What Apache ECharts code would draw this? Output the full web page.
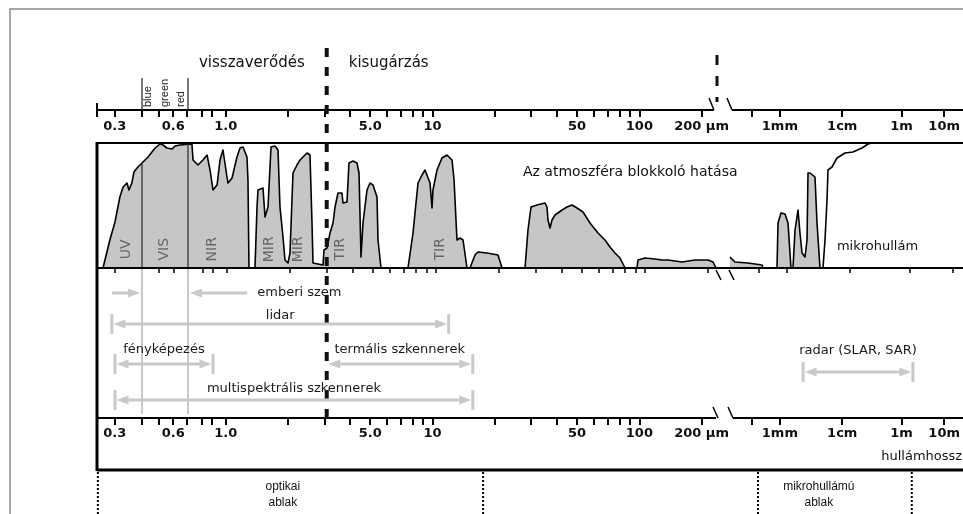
<!DOCTYPE html>
<html><head><meta charset="utf-8">
<script src="https://cdn.jsdelivr.net/npm/echarts@6/dist/echarts.min.js"></script>
<style>html,body{margin:0;padding:0;background:#fff}#c{width:963px;height:514px}</style>
</head><body><div id="c"></div>
<script>
// ================= DATA (wavelength in µm, transmission in %) =================
const opticalWavelength = [0.264,0.284,0.300,0.316,0.327,0.341,0.348,0.359,0.367,0.383,0.400,0.433,0.475,0.506,0.525,0.551,0.586,0.607,0.641,0.725,0.732,0.765,0.800,0.839,0.869,0.900,0.928,0.949,0.970,1.000,1.011,1.057,1.116,1.154,1.193,1.246,1.260,1.274,1.361,1.392,1.407,1.487,1.520,1.571,1.624,1.697,1.754,1.793,1.853,1.894,1.958,2.002,2.069,2.162,2.235,2.414,2.495,2.551,2.579,2.880,2.911,3.010,3.111,3.216,3.287,3.397,3.549,3.589,3.751,3.834,4.008,4.188,4.282,4.377,4.474,4.676,4.833,4.995,5.220,5.278,5.456,7.345,7.762,8.202,8.571,8.860,9.056,9.361,9.570,9.674,10.11,10.68,11.29,11.93,12.20,12.60,13.03,13.47,14.07,14.54,15.37,15.89,17.54,19.80,20.70,26.66,27.55,28.48,30.42,33.22,33.97,34.35,35.12,35.89,37.10,40.09,42.36,44.75,47.28,50.50,54.56,59.58,64.35,68.00,71.87,75.94,80.24,91.56,92.57,100,111.6,120.6,128.8,150.3,173.5,200.2,211.5,218.7];
const opticalTransmission = [0,22.4,36.8,56.8,64.8,68,62.4,68,76.8,80.8,84,88.8,96,99.2,98.4,96,95.2,97.6,98.4,99.2,86.4,82.4,86.4,90.4,78.4,62.4,66.4,86.4,94.4,72.8,68,72,88.8,96,96.8,88.8,70.4,0,0,48.8,62.4,64,40.8,48.8,96.8,97.6,94.4,48.8,24.8,6.4,4,12,76,82.4,86.4,92,90.4,36,4,2.4,14.4,16,28,36,48.8,60,60,52,52.8,84,85.6,84,76,8.8,36,62.4,68,66.4,56.8,22.4,0,0,28,68,74.4,78.4,80,68,48,62.4,78.4,88,90.4,86.4,70.4,22.4,24,22.4,0,0,10.4,12.8,12,10.4,0,0,30.4,48.8,50.4,52,48.8,38.4,32,38.4,42.4,46.4,48.8,50.4,48,44.8,36,28,22.4,16.8,12,8,0,0,6.4,8,7.2,6.4,6.4,4.8,6.4,6.4,4.8,0];
const microWavelength = [250,282,387,545,558,784,804,864,953,1037,1157,1245,1340,1441,1495,1608,1730,1931,2078,2154,2318,2783,2994,3340,3727];
const microTransmission = [8.8,4.8,4,2.4,0,0,36,44,43.2,36,0,0,30.4,40.8,46.4,28,12,8.8,22.4,76,76,72.8,36,0,0];
const radioWavelength = [3727,4010,4314,4476,5179,6220,8329,12589,25119,39811,54117];
const radioTransmission = [0,22.4,54.4,78.4,80.8,88,92,92.8,96,99.2,100];

const tickWavelength = [0.3,0.4,0.5,0.6,0.7,0.8,0.9,1,2,3,4,5,6,7,8,9,10,20,30,40,50,60,70,80,90,100,200,500,1000,1e4,1e6,1e7];
const labelWavelength = [0.3,0.6,1,5,10,50,100,200,1000,1e4,1e6,1e7];
const labelText = ['0.3','0.6','1.0','5.0','10','50','100','200 µm','1mm','1cm','1m','10m'];

const bandNames = ['UV','VIS','NIR','MIR','MIR','TIR','TIR'];
const bandAt = [0.337,0.531,0.889,1.59,2.19,3.47,10.45];
const colourNames = ['blue','green','red'];
const colourAt = [0.43,0.54,0.65];
const visibleLimits = [0.4,0.7];
const regimeDivide = 3;             // µm: visszaverődés | kisugárzás
const breakFrom = 218.7, breakTo = 250;

const sensorNames = ['lidar','fényképezés','termális szkennerek','multispektrális szkennerek','radar (SLAR, SAR)'];
const sensorFrom = [0.29,0.3,3,0.3,1800];
const sensorTo = [11.5,0.9,15,15,1.17e6];
const eyeFrom = [0.29,1.25];
const eyeTo = [0.4,0.7];
const windowTitle = ['optikai','mikrohullámú'];
const windowFrom = [0.25,494];
const windowTo = [16.8,1.1e6];
const windowLabelAt = [1.85,3200];

// ================= AXIS SCALE (broken, non-uniform wavelength axis) =================
const scaleKnotsUm  = [0.3,0.4,0.5,0.6,0.7,0.8,0.9,1,100,218.7,250,1000,1e4,1e6,1e7,1e8];
const scaleKnotsPos = [115,142,159,174,188,203,213,227,645,716,730,787,850,910,953,996];
const knotLog = scaleKnotsUm.map(Math.log10);
function pos(um){
  const l = Math.log10(um);
  let i = 0;
  if (l >= knotLog[knotLog.length-1]) i = knotLog.length-2;
  else if (l > knotLog[0]) { while (l > knotLog[i+1]) i++; }
  const t = (l - knotLog[i])/(knotLog[i+1]-knotLog[i]);
  return scaleKnotsPos[i] + t*(scaleKnotsPos[i+1]-scaleKnotsPos[i]);
}
const AX_MIN = 97, AX_MAX = 963;

// ================= LAYOUT =================
const ROW = {regime:63, dashTop:48, dashBottom:428, colourTop:78, colourBase:107, topAxis:110,
  panelTop:143, panelBottom:268, arrowsTop:269, arrowsBottom:414, bottomAxis:418, footer:470,
  windowTop:472, win1:487, win2:503, page:514, eye:293, blockText:172, microText:247, waveText:457};
const sensorRow = [324,364,364,400,372];
const sensorLabelRow = [316,350,350,389,351];
const GRAY = '#c9c9c9';
const FONT = 'DejaVu Sans';

const tickU = tickWavelength.map(pos);
const labelU = labelWavelength.map(pos);
function fmt(v){ const i = labelU.findIndex(x => Math.abs(x - v) < 1e-6); return i < 0 ? '' : labelText[i]; }

function transAt(um){
  const u = pos(um), xs = opticalWavelength.map(pos);
  for (let i = 0; i < xs.length-1; i++) if (u >= xs[i] && u <= xs[i+1]) {
    const t = (u - xs[i])/(xs[i+1]-xs[i]); return opticalTransmission[i] + t*(opticalTransmission[i+1]-opticalTransmission[i]);
  }
  return 0;
}

// ================= DECORATION BUILDERS =================
const decoO = [], decoP = [];
const line = (arr,u1,y1,u2,y2,stroke,w,dash)=>arr.push({t:'l',u1,y1,u2,y2,stroke,w,dash});
const poly = (arr,pts,fill)=>arr.push({t:'p',pts,fill});
const text = (arr,u,y,s,o)=>arr.push(Object.assign({t:'t',u,y,s},o||{}));

const bL = pos(breakFrom), bR = pos(breakTo);
// axis lines with breaks
line(decoO,AX_MIN,ROW.topAxis,bL-2,ROW.topAxis,'#000',2);
line(decoO,bR+2,ROW.topAxis,AX_MAX,ROW.topAxis,'#000',2);
line(decoO,bL-7,ROW.topAxis-12,bL-2,ROW.topAxis,'#000',1.5);
line(decoO,bR-3,ROW.topAxis-12,bR+2,ROW.topAxis,'#000',1.5);
line(decoO,AX_MIN,ROW.topAxis-7,AX_MIN,ROW.topAxis+7,'#000',2);
line(decoO,bL+1,55,bL+1,ROW.topAxis-8,'#111',3,[10,11]);
// panel frame
line(decoO,AX_MIN,ROW.panelTop,AX_MAX,ROW.panelTop,'#000',2);
line(decoO,AX_MIN,ROW.panelBottom,AX_MAX,ROW.panelBottom,'#000',2);
line(decoO,bL,ROW.panelBottom+2,bL+5,ROW.panelBottom+12,'#000',1.5);
line(decoO,bR-1,ROW.panelBottom+2,bR+4,ROW.panelBottom+12,'#000',1.5);
line(decoO,AX_MIN,ROW.panelTop-1,AX_MIN,ROW.footer+1,'#000',3);
// bottom axis
line(decoO,AX_MIN,ROW.bottomAxis,bL,ROW.bottomAxis,'#000',2);
line(decoO,bR+3,ROW.bottomAxis,AX_MAX,ROW.bottomAxis,'#000',2);
line(decoO,bL-3,ROW.bottomAxis-11,bL+2,ROW.bottomAxis,'#000',1.5);
line(decoO,bR-2,ROW.bottomAxis-11,bR+3,ROW.bottomAxis,'#000',1.5);
line(decoO,AX_MIN,ROW.footer,AX_MAX,ROW.footer,'#000',3);
// visible-light limits
visibleLimits.forEach(w=>{
  const u = pos(w);
  line(decoO,u,ROW.colourTop,u,ROW.topAxis,'#222',1.2);
  line(decoO,u,ROW.arrowsTop,u,ROW.arrowsBottom,GRAY,2);
  line(decoP,u,transAt(w),u,0,'#333',1.3);
});
colourNames.forEach((n,i)=>text(decoO,pos(colourAt[i]),ROW.colourBase,n,{rot:Math.PI/2,align:'left',size:11,family:'Liberation Sans',color:'#222'}));
// regime divide
const uD = pos(regimeDivide);
line(decoO,uD,ROW.dashTop,uD,ROW.dashBottom,'#111',4,[9,10]);
text(decoO,uD-22,ROW.regime,'visszaverődés',{align:'right',size:15});
text(decoO,uD+22,ROW.regime,'kisugárzás',{align:'left',size:15});
// panel annotations
bandNames.forEach((n,i)=>text(decoP,pos(bandAt[i]),15,n,{rot:Math.PI/2,size:14,color:'#666'}));
text(decoO,pos(85),ROW.blockText,'Az atmoszféra blokkoló hatása',{size:14});
text(decoO,pos(6200),ROW.microText,'mikrohullám',{align:'left',size:13});
text(decoO,pos(1.1e5),ROW.waveText,'hullámhossz',{align:'left',size:13});
// arrows
function head(tip,y,dir){ poly(decoO,[[tip,y],[tip-dir*12,y-4.5],[tip-dir*12,y+4.5]],GRAY); }
function bar(u,y){ line(decoO,u,y-10,u,y+10,GRAY,3); }
sensorNames.forEach((name,i)=>{
  const a = pos(sensorFrom[i]), b = pos(sensorTo[i]), y = sensorRow[i];
  if (sensorFrom[i] !== regimeDivide) bar(a,y);
  bar(b,y);
  head(a+1.5,y,-1); head(b-1.5,y,1);
  line(decoO,a+12,y,b-12,y,GRAY,3);
  text(decoO,(a+b)/2,sensorLabelRow[i],name,{size:13,color:'#1a1a1a'});
});
eyeFrom.forEach((f,i)=>{
  const a = pos(f), b = pos(eyeTo[i]), dir = b > a ? 1 : -1, tip = b - dir*2;
  head(tip,ROW.eye,dir);
  line(decoO,a,ROW.eye,tip-dir*12,ROW.eye,GRAY,3);
});
text(decoO,pos(eyeFrom[1])+10,ROW.eye,'emberi szem',{align:'left',size:13,color:'#1a1a1a'});
// windows
windowTitle.forEach((n,i)=>{
  [windowFrom[i],windowTo[i]].forEach(w=>line(decoO,pos(w),ROW.windowTop,pos(w),ROW.page,'#000',2,[2,2]));
  text(decoO,pos(windowLabelAt[i]),ROW.win1,n,{size:12,family:'Liberation Sans',color:'#111'});
  text(decoO,pos(windowLabelAt[i]),ROW.win2,'ablak',{size:12,family:'Liberation Sans',color:'#111'});
});

function renderDeco(list){
  return function(params, api){
    const d = list[params.dataIndex];
    if (d.t === 'l'){
      const a = api.coord([d.u1,d.y1]), b = api.coord([d.u2,d.y2]);
      return {type:'line', silent:true, shape:{x1:a[0],y1:a[1],x2:b[0],y2:b[1]},
        style:{stroke:d.stroke,lineWidth:d.w,lineDash:d.dash||null,lineCap:'butt',fill:null}};
    }
    if (d.t === 'p'){
      return {type:'polygon', silent:true, shape:{points:d.pts.map(p=>api.coord(p))}, style:{fill:d.fill}};
    }
    const a = api.coord([d.u,d.y]);
    return {type:'text', silent:true, x:a[0], y:a[1], rotation:d.rot||0,
      style:{text:d.s, fill:d.color||'#111', fontSize:d.size||13, fontFamily:d.family||FONT,
        fontWeight:d.weight||'normal', align:d.align||'center', verticalAlign:'middle'}};
  };
}

const axisBase = {type:'value', min:AX_MIN, max:AX_MAX, axisLine:{show:false, onZero:false}, splitLine:{show:false}};
const labelStyle = {customValues:labelU, formatter:fmt, fontFamily:FONT, fontWeight:'bold', fontSize:13, color:'#111', margin:10};
const tickStyle = {show:true, customValues:tickU, length:7, lineStyle:{color:'#000', width:2}};
const chart = echarts.init(document.getElementById('c'), null, {renderer:'canvas'});
chart.setOption({
  animation:false,
  backgroundColor:'#fff',
  grid:[
    {left:AX_MIN, right:963-AX_MAX, top:40, height:ROW.topAxis-40},
    {left:AX_MIN, right:963-AX_MAX, top:ROW.panelTop, height:ROW.panelBottom-ROW.panelTop},
    {left:AX_MIN, right:963-AX_MAX, top:ROW.bottomAxis-40, height:40},
    {left:AX_MIN, right:963-AX_MAX, top:0, height:ROW.page}
  ],
  xAxis:[
    Object.assign({gridIndex:0, position:'bottom', axisTick:tickStyle, axisLabel:labelStyle}, axisBase),
    Object.assign({gridIndex:1, position:'bottom', axisTick:{show:true, customValues:tickU, length:5, lineStyle:{color:'#000', width:1.5}}, axisLabel:{show:false}}, axisBase),
    Object.assign({gridIndex:2, position:'bottom', axisTick:tickStyle, axisLabel:Object.assign({}, labelStyle, {margin:9})}, axisBase),
    Object.assign({gridIndex:3, show:false}, axisBase)
  ],
  yAxis:[
    {gridIndex:0, type:'value', min:0, max:1, show:false},
    {gridIndex:1, type:'value', min:0, max:100, show:false},
    {gridIndex:2, type:'value', min:0, max:1, show:false},
    {gridIndex:3, type:'value', min:0, max:ROW.page, inverse:true, show:false}
  ],
  graphic:[{type:'polyline', silent:true, shape:{points:[[10,514],[10,9],[963,9]]}, style:{stroke:'#8c8c8c', lineWidth:1.5, fill:null}}],
  series:[
    {type:'line', xAxisIndex:1, yAxisIndex:1, z:2, symbol:'none', data:opticalWavelength.map((w,i)=>[pos(w),opticalTransmission[i]]),
      lineStyle:{color:'#000', width:1.6, join:'round'}, areaStyle:{color:'#c6c6c6', opacity:1}},
    {type:'line', xAxisIndex:1, yAxisIndex:1, z:2, symbol:'none', data:microWavelength.map((w,i)=>[pos(w),microTransmission[i]]),
      lineStyle:{color:'#000', width:1.6, join:'round'}, areaStyle:{color:'#c6c6c6', opacity:1}},
    {type:'line', xAxisIndex:1, yAxisIndex:1, z:2, symbol:'none', data:radioWavelength.map((w,i)=>[pos(w),radioTransmission[i]]),
      lineStyle:{color:'#000', width:1.6, join:'round'}},
    {type:'custom', xAxisIndex:1, yAxisIndex:1, z:4, clip:false, renderItem:renderDeco(decoP), data:decoP.map(()=>[AX_MIN,0])},
    {type:'custom', xAxisIndex:3, yAxisIndex:3, z:5, clip:false, renderItem:renderDeco(decoO), data:decoO.map(()=>[AX_MIN,0])}
  ]
});
</script></body></html>
